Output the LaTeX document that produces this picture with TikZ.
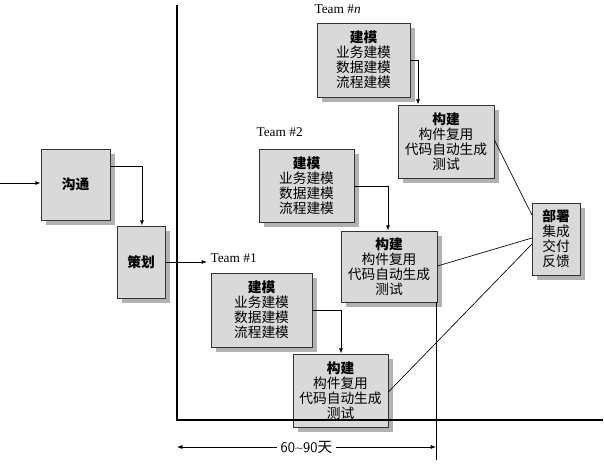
\documentclass[tikz,border=0pt]{standalone}
\usepackage{fontspec}
\setmainfont{Liberation Serif}
\newfontfamily\cjk{Noto Sans CJK SC}
\usetikzlibrary{arrows.meta}
\begin{document}
\begin{tikzpicture}[x=0.75pt,y=-0.75pt,
 bx/.style={draw=black!80,fill=black!15,line width=0.6pt,align=center,inner sep=0pt,font=\cjk\fontsize{10.3}{11.3}\selectfont},
 sh/.style={fill=black!30},
 arr/.style={-{Latex[length=4pt,width=3pt]},line width=0.6pt},
 ln/.style={line width=0.5pt}]
\useasboundingbox[fill=white] (0,0) rectangle (604,466);
\newcommand\mybox[6]{%
 \fill[sh] (#2+5,#3+5) rectangle (#4+5,#5+5);
 \node[bx,minimum width=(#4-#2)*0.75pt,minimum height=(#5-#3)*0.75pt] (#1) at ({(#2+#4)/2},{(#3+#5)/2}) {#6};}
\mybox{gt}{41}{149}{110}{220}{\textbf{沟通}}
\mybox{ch}{117}{226}{165}{298}{\textbf{策划}}
\mybox{m1}{211}{273}{312}{347}{\textbf{建模}\\业务建模\\数据建模\\流程建模}
\mybox{b1}{293}{354}{388}{427}{\textbf{构建}\\构件复用\\代码自动生成\\测试}
\mybox{m2}{259}{149}{354}{222}{\textbf{建模}\\业务建模\\数据建模\\流程建模}
\mybox{b2}{341}{231}{437}{302}{\textbf{构建}\\构件复用\\代码自动生成\\测试}
\mybox{mn}{317}{23}{410}{97}{\textbf{建模}\\业务建模\\数据建模\\流程建模}
\mybox{bn}{398}{105}{494}{178}{\textbf{构建}\\构件复用\\代码自动生成\\测试}
\mybox{bs}{532}{203}{580}{275}{\textbf{部署}\\集成\\交付\\反馈}
% axes
\coordinate (ax0) at (177,5); \coordinate (ax1) at (177,420); \coordinate (ax2) at (603,420);
\draw[line width=1.5pt] (ax0) -- (ax1) -- (ax2);
\coordinate (v0) at (436,302); \coordinate (v1) at (436,460);
\draw[ln] (v0) -- (v1);
\coordinate (d0) at (177,447); \coordinate (d1) at (436,447);
\draw[{Latex[length=4pt,width=3pt]}-{Latex[length=4pt,width=3pt]},ln] (d0) -- node[fill=white,font=\sffamily\fontsize{11}{12}\selectfont,inner xsep=3pt]{60\textasciitilde 90\cjk 天} (d1);
% arrows
\coordinate (in) at (0,183);
\draw[arr] (in) -- (gt.west|-in);
\draw[arr] (gt.east|-0,166) -| (ch.north-|142,0);
\coordinate (t1) at (207,262);
\draw[arr] (ch.east|-t1) -- (t1);
\node[anchor=west,font=\fontsize{10}{11}\selectfont,inner sep=1pt] (lt1) at (209,258) {Team \#1};
\node[anchor=west,font=\fontsize{10}{11}\selectfont,inner sep=1pt] (lt2) at (255,132) {Team \#2};
\node[anchor=west,font=\fontsize{10}{11}\selectfont,inner sep=1pt] (ltn) at (313,9) {Team \#\textit{n}};
\draw[arr] (m1.east|-0,310) -| (b1.north-|341,0);
\draw[arr] (m2.east|-0,186) -| (b2.north-|388,0);
\draw[arr] (mn.east|-0,60) -| (bn.north-|418,0);
\draw[ln] (bn.east|-0,140) -- (532,215);
\draw[ln] (b2.east|-0,266) -- (532,238);
\draw[ln] (b1.east|-0,392) -- (532,244);
\end{tikzpicture}
\end{document}
